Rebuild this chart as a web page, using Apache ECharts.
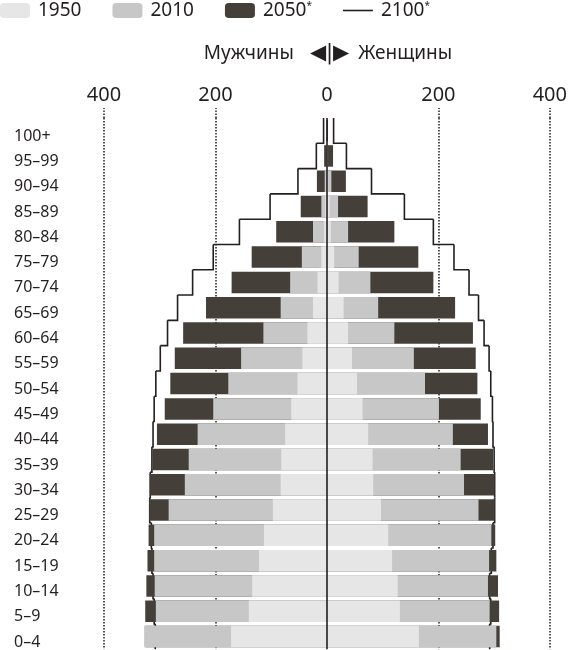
<!DOCTYPE html>
<html>
<head>
<meta charset="utf-8">
<script src="https://cdn.jsdelivr.net/npm/echarts@6/dist/echarts.min.js"></script>
<style>
  html, body { margin: 0; padding: 0; background: #fff; }
  #chart { width: 570px; height: 650px; }
</style>
</head>
<body>
<div id="chart"></div>
<script>
// Age groups, top row first (axis is inverted)
const ages = ['100+', '95–99', '90–94', '85–89', '80–84', '75–79', '70–74', '65–69',
  '60–64', '55–59', '50–54', '45–49', '40–44', '35–39', '30–34', '25–29',
  '20–24', '15–19', '10–14', '5–9', '0–4'];

// Population, millions (men on the left, women on the right)
const male1950   = [0, 0, 1, 3, 5, 10, 17, 25, 35, 44, 53, 64, 75, 82, 83, 97, 113, 122, 134, 140, 172];
const female1950 = [0, 1, 2, 5, 7, 13, 21, 30, 38, 45, 54, 64, 74, 82, 83, 97, 110, 117, 127, 131, 165];
const male2010   = [0, 1, 4, 10, 25, 45, 66, 83, 114, 154, 177, 204, 232, 248, 255, 284, 310, 310, 309, 307, 328];
const female2010 = [0, 2, 8, 20, 38, 57, 78, 92, 121, 156, 176, 201, 226, 240, 246, 272, 295, 291, 289, 292, 304];
const male2050   = [1, 5, 18, 47, 91, 135, 171, 217, 258, 273, 281, 291, 305, 313, 318, 319, 320, 322, 324, 326, 326];
const female2050 = [2, 11, 34, 73, 121, 164, 191, 230, 262, 267, 270, 276, 289, 298, 301, 301, 302, 304, 307, 309, 310];
const male2100   = [6, 19, 52, 102, 157, 204, 241, 268, 286, 299, 307, 310, 312, 314, 317, 318, 315, 314, 312, 310, 308];
const female2100 = [12, 35, 80, 139, 191, 228, 255, 272, 282, 291, 294, 297, 298, 300, 301, 301, 298, 295, 292, 294, 292];

const xTicks = [-400, -200, 200, 400];

const INK = '#231f20';
const C1950 = '#e6e6e6';
const C2010 = '#c7c7c7';
const C2050 = '#453f3a';
const FONT = 'Noto Sans';

const chart = echarts.init(document.getElementById('chart'));

// men drawn to the left of zero
const neg = arr => arr.map(v => -v);

function barSeries(name, data, color) {
  return {
    name: name,
    type: 'bar',
    data: data,
    barWidth: 21.5,
    barGap: '-100%',
    itemStyle: { color: color },
    silent: true
  };
}

// step outline for 2100: each row is a vertical stroke, joined to the row below
function stepData(arr, sign) {
  return arr.map((v, i) => [sign * v, i, sign * (i + 1 < arr.length ? arr[i + 1] : v)]);
}

function stepSeries(data) {
  return {
    name: '2100',
    type: 'custom',
    data: data,
    encode: { x: 0, y: 1 },
    itemStyle: { color: INK },
    silent: true,
    renderItem: function (params, api) {
      const c = api.coord([api.value(0), api.value(1)]);
      const h = api.size([0, 1])[1];
      const nx = api.coord([api.value(2), api.value(1)])[0];
      return {
        type: 'polyline',
        shape: { points: [[c[0], c[1] - h / 2], [c[0], c[1] + h / 2], [nx, c[1] + h / 2]] },
        style: { stroke: INK, lineWidth: 1.6, fill: null }
      };
    }
  };
}

const centerLine = {
  silent: true,
  symbol: 'none',
  label: { show: false },
  lineStyle: { color: INK, width: 1.6, type: 'solid' },
  data: [{ xAxis: 0 }]
};

const option = {
  animation: false,
  textStyle: { fontFamily: FONT, color: INK },

  title: {
    text: 'Мужчины{t|◀|▶}Женщины',
    left: 328,
    top: 43,
    padding: 0,
    textAlign: 'center',
    textStyle: {
      fontFamily: FONT,
      fontSize: 19,
      fontWeight: 'normal',
      color: INK,
      rich: { t: { fontFamily: 'DejaVu Sans', fontSize: 21, color: INK, padding: [0, 9, 0, 16] } }
    }
  },

  legend: {
    left: 0,
    top: 1,
    padding: 0,
    itemWidth: 30,
    itemHeight: 15,
    itemGap: 31,
    selectedMode: false,
    data: ['1950', '2010', '2050', { name: '2100', icon: 'path://M0,0H30V1.6H0Z' }],
    formatter: name => (name === '2050' || name === '2100') ? name + '{s|*}' : name,
    textStyle: {
      fontFamily: FONT,
      fontSize: 19,
      color: INK,
      padding: [0, 0, 0, 3],
      rich: { s: { fontSize: 10, padding: [0, 0, 9, 0], color: INK } }
    }
  },

  grid: { left: 104, right: 17, top: 118, height: 533 },

  xAxis: {
    type: 'value',
    position: 'top',
    min: -400,
    max: 400,
    interval: 200,
    axisLine: { show: false },
    axisTick: {
      show: true,
      length: 10,
      customValues: xTicks,
      lineStyle: { color: INK, width: 1.5, type: 'dotted' }
    },
    splitLine: {
      show: true,
      lineStyle: { color: INK, width: 1.5, type: 'dotted' }
    },
    axisLabel: {
      fontFamily: FONT,
      fontSize: 20,
      color: INK,
      margin: 13,
      formatter: v => String(Math.abs(v))
    }
  },

  yAxis: {
    type: 'category',
    inverse: true,
    data: ages,
    axisLine: { show: false },
    axisTick: { show: false },
    splitLine: { show: false },
    axisLabel: {
      fontFamily: FONT,
      fontSize: 16,
      color: INK,
      align: 'left',
      verticalAlign: 'top',
      lineHeight: 11,
      margin: 90
    }
  },

  series: [
    Object.assign(barSeries('2050', neg(male2050), C2050), { markLine: centerLine }),
    barSeries('2050', female2050, C2050),
    barSeries('2010', neg(male2010), C2010),
    barSeries('2010', female2010, C2010),
    barSeries('1950', neg(male1950), C1950),
    barSeries('1950', female1950, C1950),
    stepSeries(stepData(male2100, -1)),
    stepSeries(stepData(female2100, 1))
  ]
};

chart.setOption(option);
window.addEventListener('resize', () => chart.resize());
</script>
</body>
</html>
